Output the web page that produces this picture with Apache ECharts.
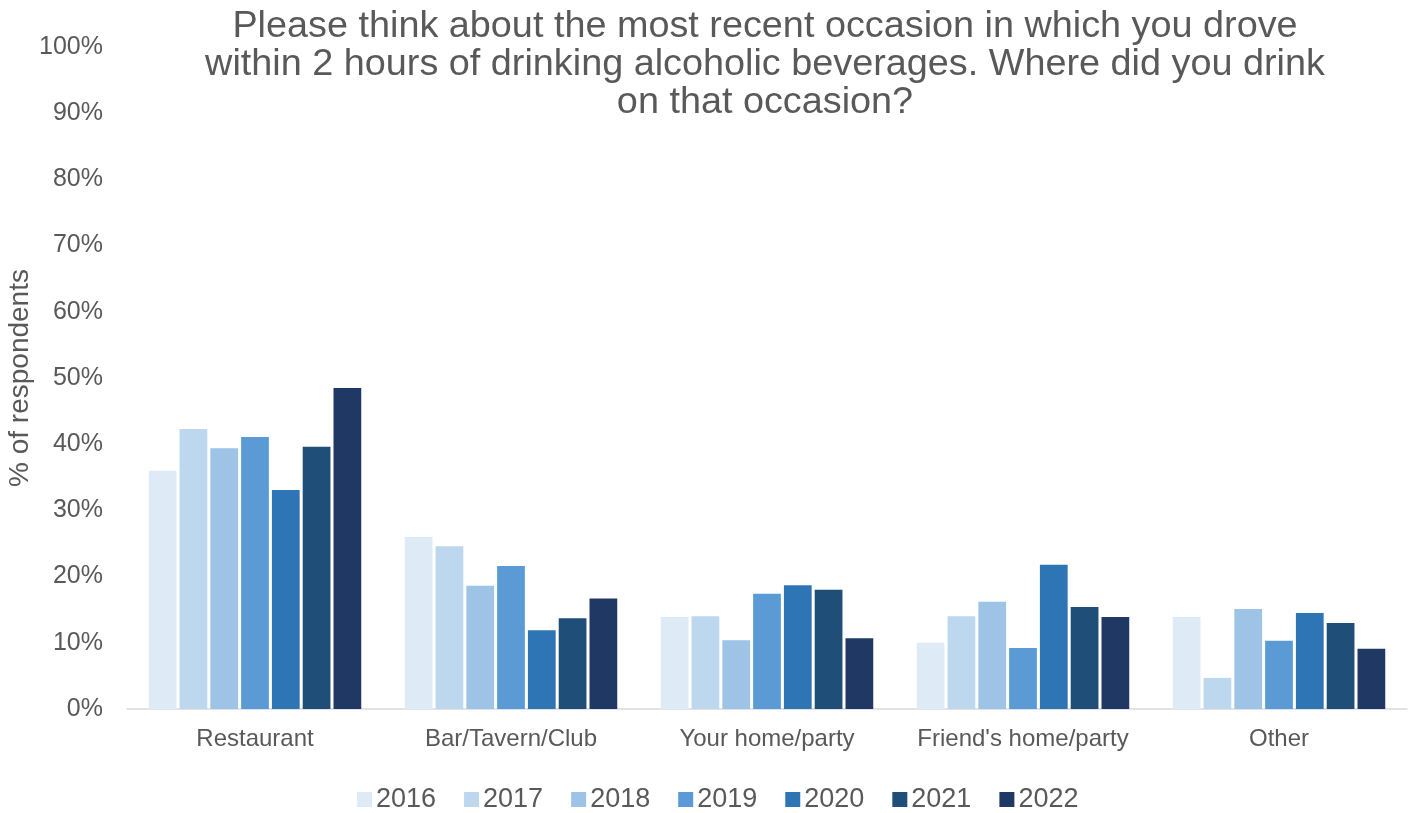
<!DOCTYPE html>
<html><head><meta charset="utf-8">
<script src="https://cdn.jsdelivr.net/npm/echarts@6/dist/echarts.min.js"></script>
<style>html,body{margin:0;padding:0;background:#fff}#c{width:1415px;height:813px}</style>
</head><body><div id="c"></div>
<script>
const categories = ["Restaurant", "Bar/Tavern/Club", "Your home/party", "Friend's home/party", "Other"];
const years = ["2016", "2017", "2018", "2019", "2020", "2021", "2022"];
const s2016 = [36.0, 26.0, 13.9, 10.0, 13.9];
const s2017 = [42.3, 24.6, 14.0, 14.0, 4.7];
const s2018 = [39.4, 18.6, 10.4, 16.2, 15.1];
const s2019 = [41.1, 21.6, 17.4, 9.2, 10.3];
const s2020 = [33.1, 11.9, 18.7, 21.8, 14.5];
const s2021 = [39.6, 13.7, 18.0, 15.4, 13.0];
const s2022 = [48.5, 16.7, 10.7, 13.9, 9.1];
const seriesData = [s2016, s2017, s2018, s2019, s2020, s2021, s2022];
const colors = ["#DEEAF6", "#BDD7EE", "#9DC3E6", "#5B9BD5", "#2E75B6", "#1F4E79", "#203864"];
const titleText = "Please think about the most recent occasion in which you drove\nwithin 2 hours of drinking alcoholic beverages. Where did you drink\non that occasion?";

const chart = echarts.init(document.getElementById('c'));
const font = "'Liberation Sans', Arial, sans-serif";
chart.setOption({
  animation: false,
  color: colors,
  textStyle: {fontFamily: font},
  graphic: [{
    type: 'text',
    x: 765,
    y: 8,
    style: {
      text: titleText,
      textAlign: 'center',
      fontSize: 37.8,
      lineHeight: 38,
      fontFamily: font,
      fill: '#595959'
    }
  }],
  legend: {
    top: 781,
    left: 352,
    itemWidth: 15, itemHeight: 15, itemGap: 28,
    icon: 'rect',
    textStyle: {fontSize: 27, color: '#595959', fontFamily: font, padding: [0,0,0,-1]},
    data: years
  },
  grid: {left: 127, right: 8, top: 47, bottom: 104, containLabel: false, outerBoundsMode: 'none'},
  xAxis: {
    type: 'category',
    data: categories,
    axisLine: {lineStyle: {color: '#D9D9D9', width: 1.5}},
    axisTick: {show: false},
    axisLabel: {interval: 0, fontSize: 24, color: '#595959', margin: 18, fontFamily: font}
  },
  yAxis: {
    type: 'value',
    min: 0, max: 100, interval: 10,
    name: '% of respondents',
    nameLocation: 'middle',
    nameRotate: 90,
    nameGap: 93,
    nameMoveOverlap: false,
    nameTextStyle: {fontSize: 28, color: '#595959', fontFamily: font},
    axisLine: {show: false},
    axisTick: {show: false},
    splitLine: {show: false},
    axisLabel: {formatter: '{value}%', fontSize: 25, color: '#595959', margin: 24, fontFamily: font}
  },
  series: years.map((y, i) => ({
    name: y,
    type: 'bar',
    data: seriesData[i],
    barGap: '11%',
    barCategoryGap: '17%'
  }))
});
</script></body></html>
